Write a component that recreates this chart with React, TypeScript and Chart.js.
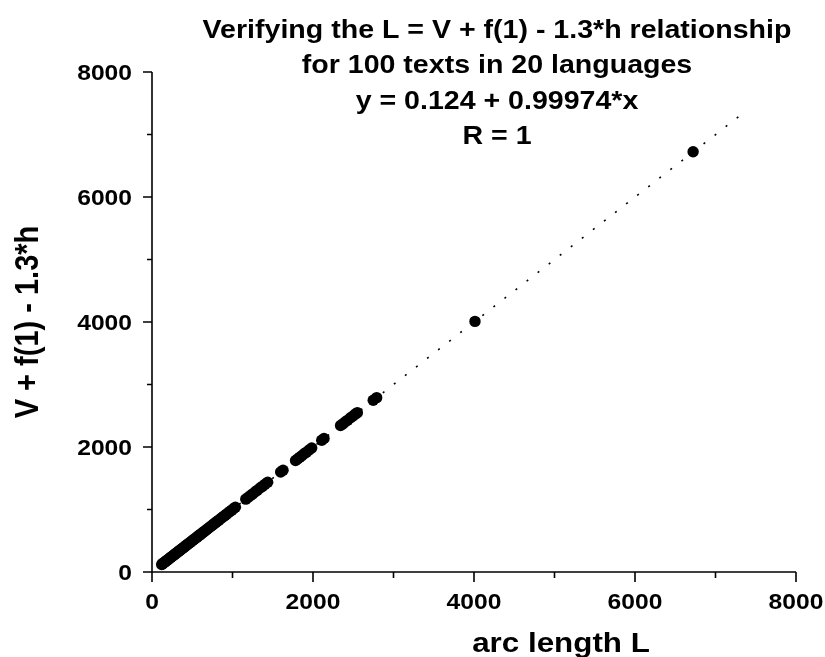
import React, { useEffect, useRef } from "react";
import { Chart, registerables } from "chart.js";

Chart.register(...registerables);

// Data
const xValues = [
  120, 131, 137, 144, 155, 167, 178, 190, 201, 212, 223, 236, 247, 262, 270, 283, 294, 307, 318, 331,
  342, 355, 366, 378, 392, 403, 417, 428, 442, 453, 468, 479, 494, 505, 520, 531, 547, 559, 575, 585,
  589, 603, 616, 632, 645, 662, 675, 693, 707, 725, 740, 759, 774, 794, 810, 830, 847, 868, 885, 907,
  925, 948, 967, 991, 1011, 1036,
  1165, 1192, 1224, 1251, 1283, 1309, 1342, 1371, 1404, 1437,
  1598, 1628,
  1783, 1808, 1836, 1861, 1890, 1918, 1951, 1984,
  2108, 2137,
  2342, 2371, 2398, 2430, 2466, 2497, 2529, 2551,
  2748, 2791,
  4012, 6722,
];
const yValues = [
  121, 130, 139, 143, 156, 166, 179, 189, 202, 211, 224, 235, 248, 261, 271, 282, 295, 306, 319, 330,
  343, 354, 367, 377, 393, 402, 418, 427, 443, 452, 469, 478, 495, 504, 521, 530, 548, 558, 576, 584,
  590, 602, 617, 631, 646, 661, 676, 692, 708, 724, 741, 758, 775, 793, 811, 829, 848, 867, 886, 906,
  926, 947, 968, 990, 1012, 1035,
  1166, 1191, 1225, 1250, 1284, 1308, 1343, 1370, 1405, 1436,
  1599, 1627,
  1784, 1807, 1837, 1860, 1891, 1917, 1952, 1983,
  2109, 2136,
  2343, 2370, 2399, 2429, 2467, 2496, 2530, 2550,
  2749, 2790,
  4010, 6724,
];
const fitX = [120, 7300];
const fitY = [120, 7298];

const majorTicks = [0, 2000, 4000, 6000, 8000];
const minorTicks = [1000, 3000, 5000, 7000];
const tickLabels = ["0", "2000", "4000", "6000", "8000"];

const titleLines = [
  "Verifying the L = V + f(1) - 1.3*h relationship",
  "for 100 texts in 20 languages",
  "y = 0.124 + 0.99974*x",
  "R = 1",
];
const xTitle = "arc length L";
const yTitle = "V + f(1) - 1.3*h";

const FONT = '"Liberation Sans", Arial, Helvetica, sans-serif';
const STRETCH = 1.12;

function drawText(
  ctx: CanvasRenderingContext2D,
  text: string,
  x: number,
  y: number,
  size: number,
  align: CanvasTextAlign,
  sx: number,
  rotate = 0
) {
  ctx.save();
  ctx.translate(x, y);
  if (rotate) ctx.rotate(rotate);
  if (rotate) ctx.scale(1, sx);
  else ctx.scale(sx, 1);
  ctx.font = `bold ${size}px ${FONT}`;
  ctx.textAlign = align;
  ctx.textBaseline = "alphabetic";
  ctx.fillStyle = "#000";
  ctx.fillText(text, 0, 0);
  ctx.restore();
}

const overlay = {
  id: "overlay",
  afterDraw(chart: any) {
    const ctx: CanvasRenderingContext2D = chart.ctx;
    const xs = chart.scales.x;
    const ys = chart.scales.y;
    const x0 = xs.getPixelForValue(0);
    const x1 = xs.getPixelForValue(8000);
    const y0 = ys.getPixelForValue(0);
    const y1 = ys.getPixelForValue(8000);
    ctx.save();
    ctx.strokeStyle = "#000";
    ctx.lineWidth = 1.6;
    ctx.beginPath();
    ctx.moveTo(x0, y1);
    ctx.lineTo(x0, y0);
    ctx.lineTo(x1, y0);
    ctx.stroke();
    // ticks
    ctx.beginPath();
    majorTicks.forEach((v) => {
      const px = xs.getPixelForValue(v);
      ctx.moveTo(px, y0);
      ctx.lineTo(px, y0 + 10);
      const py = ys.getPixelForValue(v);
      ctx.moveTo(x0, py);
      ctx.lineTo(x0 - 9, py);
    });
    minorTicks.forEach((v) => {
      const px = xs.getPixelForValue(v);
      ctx.moveTo(px, y0);
      ctx.lineTo(px, y0 + 6);
      const py = ys.getPixelForValue(v);
      ctx.moveTo(x0, py);
      ctx.lineTo(x0 - 5, py);
    });
    ctx.stroke();
    ctx.restore();

    majorTicks.forEach((v, i) => {
      const px = xs.getPixelForValue(v);
      drawText(ctx, tickLabels[i], px, y0 + 37, 22, "center", STRETCH);
      const py = ys.getPixelForValue(v);
      drawText(ctx, tickLabels[i], x0 - 20, py + 7.8, 22, "right", STRETCH);
    });

    const tBase = [38, 73, 108.5, 144];
    titleLines.forEach((t, i) => {
      drawText(ctx, t, 497, tBase[i], 25.5, "center", STRETCH);
    });

    drawText(ctx, xTitle, 561, 652, 28.5, "center", 1.1);
    drawText(ctx, yTitle, 38, (y0 + y1) / 2, 29, "center", STRETCH, -Math.PI / 2);
  },
};

export default function App() {
  const ref = useRef<HTMLCanvasElement | null>(null);
  useEffect(() => {
    if (!ref.current) return;
    const points = xValues.map((x, i) => ({ x, y: yValues[i] }));
    const fit = fitX.map((x, i) => ({ x, y: fitY[i] }));
    const chart = new Chart(ref.current, {
      type: "scatter",
      data: {
        datasets: [
          {
            label: "fit",
            data: fit,
            showLine: true,
            pointRadius: 0,
            borderColor: "#000",
            borderWidth: 1.6,
            borderDash: [2, 12],
            order: 2,
          },
          {
            label: "texts",
            data: points,
            pointRadius: 5.7,
            pointBackgroundColor: "#000",
            pointBorderWidth: 0,
            borderColor: "#000",
            order: 1,
          },
        ],
      },
      options: {
        animation: false,
        responsive: false,
        devicePixelRatio: 1,
        layout: { padding: { left: 152, right: 29, top: 72, bottom: 85 } },
        plugins: {
          legend: { display: false },
          title: { display: false },
          tooltip: { enabled: false },
        },
        scales: {
          x: { type: "linear", min: 0, max: 8000, display: false },
          y: { type: "linear", min: 0, max: 8000, display: false },
        },
      },
      plugins: [overlay],
    });
    return () => chart.destroy();
  }, []);
  return (
    <div style={{ position: "absolute", left: 0, top: 0, width: 825, height: 657, background: "#fff" }}>
      <canvas ref={ref} width={825} height={657} style={{ display: "block" }} />
    </div>
  );
}
